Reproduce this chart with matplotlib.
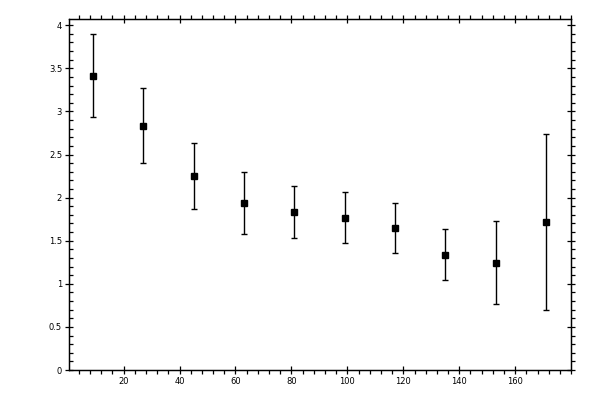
import matplotlib
matplotlib.use("Agg")
import matplotlib.pyplot as plt
from matplotlib.ticker import MultipleLocator

# values
x = [9, 27, 45, 63, 81, 99, 117, 135, 153, 171]
y = [3.415, 2.834, 2.253, 1.940, 1.835, 1.765, 1.649, 1.336, 1.243, 1.719]
err = [0.48, 0.435, 0.383, 0.36, 0.305, 0.295, 0.29, 0.295, 0.482, 1.02]

plt.rcParams['font.family'] = ['DejaVu Sans']
plt.rcParams['font.size'] = 6

fig = plt.figure(figsize=(6, 4), dpi=100)
ax = fig.add_axes([0.115, 0.075, 0.837, 0.877])

ax.errorbar(x, y, yerr=err, fmt='s', color='black', ms=5, elinewidth=1,
            capsize=2.5, capthick=1)

ax.set_xlim(0.5, 180)
ax.set_ylim(0, 4.07)
ax.xaxis.set_major_locator(MultipleLocator(20))
ax.xaxis.set_minor_locator(MultipleLocator(4))
ax.yaxis.set_major_locator(MultipleLocator(0.5))
ax.yaxis.set_minor_locator(MultipleLocator(0.1))
ax.set_xticks([20, 40, 60, 80, 100, 120, 140, 160])
ax.set_yticks([0, 0.5, 1, 1.5, 2, 2.5, 3, 3.5, 4])
ax.set_yticklabels(['0', '0.5', '1', '1.5', '2', '2.5', '3', '3.5', '4'])

for s in ax.spines.values():
    s.set_linewidth(0.9)

ax.tick_params(axis='x', which='major', direction='inout', length=6, width=0.9,
               top=True, bottom=True, pad=2)
ax.tick_params(axis='x', which='minor', direction='out', length=3, width=0.9,
               top=True, bottom=True)
ax.tick_params(axis='y', which='major', direction='inout', length=6, width=0.9,
               left=True, right=False, pad=2)
ax.tick_params(axis='y', which='minor', direction='in', length=3, width=0.9,
               left=True, right=False)

# right side ticks point outward
ax2 = ax.twinx()
ax2.set_ylim(ax.get_ylim())
ax2.yaxis.set_major_locator(MultipleLocator(0.5))
ax2.yaxis.set_minor_locator(MultipleLocator(0.1))
ax2.tick_params(axis='y', which='major', direction='inout', length=6, width=0.9,
                labelright=False)
ax2.tick_params(axis='y', which='minor', direction='out', length=3, width=0.9)
for s in ax2.spines.values():
    s.set_linewidth(0.9)

fig.savefig("out.png", dpi=100)
